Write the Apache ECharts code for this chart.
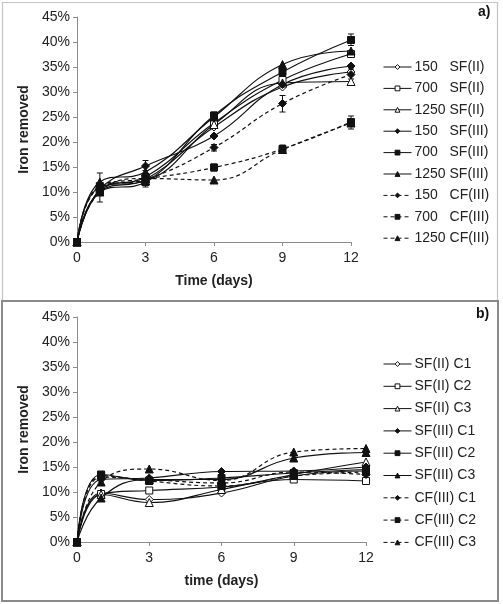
<!DOCTYPE html>
<html>
<head>
<meta charset="utf-8">
<script src="https://cdn.jsdelivr.net/npm/echarts@6/dist/echarts.min.js"></script>
<style>
  html, body { margin: 0; padding: 0; background: #fff; }
  #chart { width: 503px; height: 604px; }
</style>
</head>
<body>
<div id="chart"></div>
<script>
// x values (days)
const days = [0, 1, 3, 6, 9, 12]

// panel a) - iron removed (%)
const a_150_SF2 = [0, 10.0, 12.5, 23.0, 31.0, 34.0]
const a_700_SF2 = [0, 10.3, 13.0, 23.8, 32.4, 37.6]
const a_1250_SF2 = [0, 11.0, 12.2, 23.5, 31.8, 32.1]
const a_150_SF3 = [0, 10.5, 15.2, 21.2, 31.5, 35.2]
const a_700_SF3 = [0, 10.0, 12.0, 25.3, 34.0, 40.4]
const a_1250_SF3 = [0, 12.0, 14.0, 25.0, 35.5, 38.2]
const a_150_CF3 = [0, 11.0, 12.5, 18.9, 27.7, 33.5]
const a_700_CF3 = [0, 11.2, 12.6, 14.9, 18.6, 24.0]
const a_1250_CF3 = [0, 10.0, 12.7, 12.4, 18.5, 23.8]

// panel a) error bars: [day, low, high]
const a_errors = [
  [1, 8.0, 13.8], [3, 11.0, 12.8], [3, 14.3, 16.3],
  [6, 24.4, 26.0], [6, 14.2, 15.6], [6, 18.2, 19.5],
  [9, 26.0, 29.3], [9, 17.9, 19.4], [9, 33.0, 35.0],
  [12, 39.3, 41.6], [12, 22.6, 25.2], [12, 32.6, 34.6],
]

// panel b) - iron removed (%)
const b_SF2_C1 = [0, 9.8, 8.5, 9.8, 13.2, 14.2]
const b_SF2_C2 = [0, 9.6, 10.3, 11.0, 12.5, 12.2]
const b_SF2_C3 = [0, 9.5, 7.9, 10.5, 13.5, 16.0]
const b_SF3_C1 = [0, 12.5, 12.8, 14.1, 14.2, 15.0]
const b_SF3_C2 = [0, 13.5, 12.3, 12.8, 13.8, 14.5]
const b_SF3_C3 = [0, 8.8, 12.5, 12.5, 16.8, 17.9]
const b_CF3_C1 = [0, 13.0, 12.5, 11.8, 14.0, 13.5]
const b_CF3_C2 = [0, 13.3, 12.2, 11.2, 13.2, 14.0]
const b_CF3_C3 = [0, 12.0, 14.6, 12.3, 18.0, 18.7]

const namesA = ['150   SF(II)', '700   SF(II)', '1250 SF(II)', '150   SF(III)', '700   SF(III)', '1250 SF(III)', '150   CF(III)', '700   CF(III)', '1250 CF(III)']
const namesB = ['SF(II) C1', 'SF(II) C2', 'SF(II) C3', 'SF(III) C1', 'SF(III) C2', 'SF(III) C3', 'CF(III) C1', 'CF(III) C2', 'CF(III) C3']
const valuesA = [a_150_SF2, a_700_SF2, a_1250_SF2, a_150_SF3, a_700_SF3, a_1250_SF3, a_150_CF3, a_700_CF3, a_1250_CF3]
const valuesB = [b_SF2_C1, b_SF2_C2, b_SF2_C3, b_SF3_C1, b_SF3_C2, b_SF3_C3, b_CF3_C1, b_CF3_C2, b_CF3_C3]

const FONT = 'Liberation Sans'
const symbols = ['diamond', 'rect', 'triangle']

const makeSeries = (name, vals, i, axis) => {
  const open = i < 3
  const dashed = i >= 6
  return {
    type: 'line',
    name,
    xAxisIndex: axis,
    yAxisIndex: axis,
    data: days.map((d, k) => [d, vals[k]]),
    smooth: 0.45,
    symbol: symbols[i % 3],
    symbolSize: i % 3 === 1 ? 7 : 8,
    showAllSymbol: true,
    lineStyle: { color: '#111', width: 1.2, type: dashed ? [4, 3] : 'solid' },
    itemStyle: { color: open ? '#fff' : '#111', borderColor: '#111', borderWidth: 1 },
    emphasis: { disabled: true },
    animation: false,
  }
}

const axisCommon = {
  axisLine: { lineStyle: { color: '#8c8c8c' } },
  axisTick: { lineStyle: { color: '#8c8c8c' }, length: 4 },
  splitLine: { show: false },
  axisLabel: { color: '#222', fontFamily: FONT, fontSize: 14 },
  nameTextStyle: { color: '#222', fontFamily: FONT, fontSize: 14, fontWeight: 'bold' },
}

const xAxis = (idx, name) => ({
  ...axisCommon,
  gridIndex: idx,
  type: 'value',
  min: 0, max: 12, interval: 3,
  name, nameLocation: 'middle', nameGap: 32,
  axisLabel: { ...axisCommon.axisLabel, margin: 9 },
})

const yAxis = idx => ({
  ...axisCommon,
  gridIndex: idx,
  type: 'value',
  min: 0, max: 45, interval: 5,
  name: 'Iron removed', nameLocation: 'middle', nameGap: 36,
  axisLabel: { ...axisCommon.axisLabel, formatter: '{value}%', margin: 7 },
})

const errorSeries = {
  type: 'custom',
  xAxisIndex: 0,
  yAxisIndex: 0,
  data: a_errors,
  silent: true,
  z: 1,
  renderItem: (params, api) => {
    const top = api.coord([api.value(0), api.value(2)])
    const bot = api.coord([api.value(0), api.value(1)])
    const w = 3
    const style = { stroke: '#111', lineWidth: 1 }
    return {
      type: 'group',
      children: [
        { type: 'line', shape: { x1: top[0], y1: top[1], x2: bot[0], y2: bot[1] }, style },
        { type: 'line', shape: { x1: top[0] - w, y1: top[1], x2: top[0] + w, y2: top[1] }, style },
        { type: 'line', shape: { x1: bot[0] - w, y1: bot[1], x2: bot[0] + w, y2: bot[1] }, style },
      ],
    }
  },
}

const legendCommon = {
  orient: 'vertical',
  left: 378,
  itemWidth: 28,
  itemHeight: 6,
  lineStyle: { width: 1 },
  itemStyle: { borderWidth: 1 },
  textStyle: { color: '#222', fontFamily: FONT, fontSize: 14, padding: [0, 0, 0, -2] },
  selectedMode: false,
}

const chart = echarts.init(document.getElementById('chart'))
chart.setOption({
  backgroundColor: '#fff',
  animation: false,
  grid: [
    { left: 77, right: 152, top: 17, height: 225 },
    { left: 77, right: 137, top: 317, height: 225 },
  ],
  xAxis: [xAxis(0, 'Time (days)'), xAxis(1, 'time (days)')],
  yAxis: [yAxis(0), yAxis(1)],
  legend: [
    { ...legendCommon, top: 55, itemGap: 7.4, data: namesA },
    { ...legendCommon, top: 352, itemGap: 8.3, data: namesB },
  ],
  graphic: [
    { type: 'rect', shape: { x: 2.5, y: 2.5, width: 495, height: 298 }, style: { fill: 'none', stroke: '#c4c4c4', lineWidth: 1.2 } },
    { type: 'rect', shape: { x: 2, y: 301, width: 496, height: 300 }, style: { fill: 'none', stroke: '#8a8a8a', lineWidth: 2 } },
    { type: 'text', left: 478, top: 5, style: { text: 'a)', font: 'bold 14px "Liberation Sans"', fill: '#111' } },
    { type: 'text', left: 476, top: 307, style: { text: 'b)', font: 'bold 14px "Liberation Sans"', fill: '#111' } },
  ],
  series: [
    ...namesA.map((n, i) => makeSeries(n, valuesA[i], i, 0)),
    errorSeries,
    ...namesB.map((n, i) => makeSeries(n, valuesB[i], i, 1)),
  ],
})
</script>
</body>
</html>
